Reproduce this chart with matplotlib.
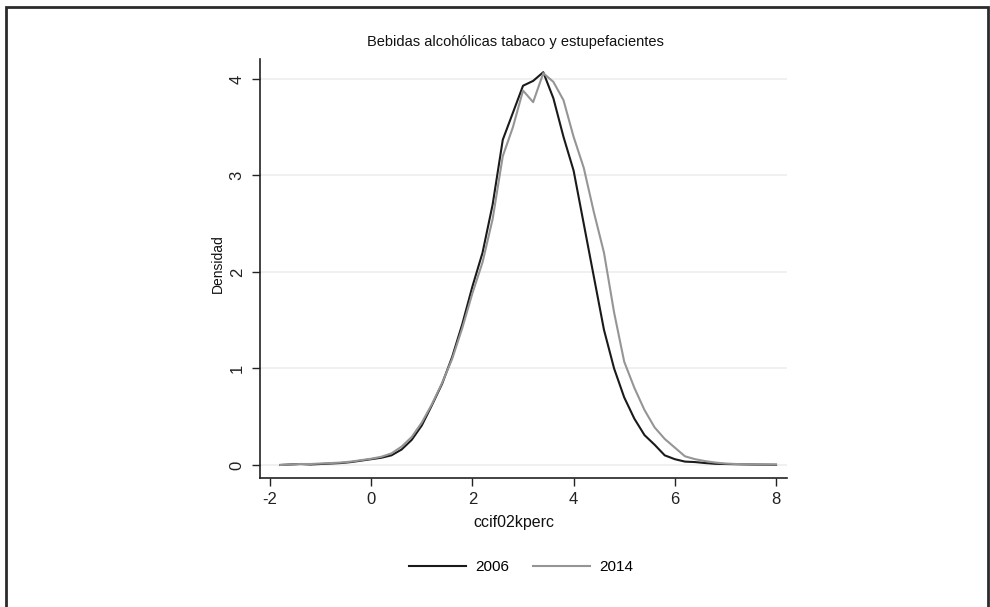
import matplotlib
matplotlib.use("Agg")
import matplotlib.pyplot as plt
from matplotlib.patches import Rectangle

plt.rcParams["font.family"] = ["Liberation Sans", "DejaVu Sans"]
plt.rcParams["axes.unicode_minus"] = False

# kdensity evaluation grid and estimated densities
grid = [-1.8, -1.6, -1.4, -1.2, -1.0, -0.8, -0.6, -0.4, -0.2, 0.0,
        0.2, 0.4, 0.6, 0.8, 1.0, 1.2, 1.4, 1.6, 1.8, 2.0,
        2.2, 2.4, 2.6, 2.8, 3.0, 3.2, 3.4, 3.6, 3.8, 4.0,
        4.2, 4.4, 4.6, 4.8, 5.0, 5.2, 5.4, 5.6, 5.8, 6.0,
        6.2, 6.4, 6.6, 6.8, 7.0, 7.2, 7.4, 7.6, 7.8, 8.0]

dens_2006 = [0.0, 0.005, 0.01, 0.005, 0.01, 0.015, 0.02, 0.03, 0.045, 0.06,
             0.075, 0.10, 0.16, 0.26, 0.41, 0.62, 0.84, 1.12, 1.46, 1.85,
             2.2, 2.7, 3.37, 3.65, 3.93, 3.98, 4.07, 3.80, 3.40, 3.05,
             2.50, 1.95, 1.40, 1.00, 0.70, 0.48, 0.31, 0.21, 0.10, 0.06,
             0.035, 0.03, 0.02, 0.012, 0.01, 0.008, 0.006, 0.004, 0.003, 0.002]

dens_2014 = [0.0, 0.005, 0.01, 0.01, 0.015, 0.02, 0.025, 0.035, 0.05, 0.065,
             0.085, 0.12, 0.19, 0.29, 0.44, 0.63, 0.85, 1.10, 1.42, 1.78,
             2.10, 2.55, 3.20, 3.50, 3.88, 3.76, 4.06, 3.97, 3.78, 3.40,
             3.08, 2.62, 2.20, 1.58, 1.07, 0.80, 0.57, 0.39, 0.27, 0.18,
             0.09, 0.06, 0.04, 0.025, 0.015, 0.01, 0.008, 0.006, 0.005, 0.005]

W, H = 990, 607
fig = plt.figure(figsize=(W / 100, H / 100), dpi=100)
ax = fig.add_axes([260 / W, 1 - 478 / H, (787 - 260) / W, (478 - 59) / H])

ax.plot(grid, dens_2006, color="#1a1a1a", linewidth=1.5, label="2006")
ax.plot(grid, dens_2014, color="#959595", linewidth=1.5, label="2014")

ax.set_xlim(-2.198, 8.217)
ax.set_ylim(-0.135, 4.207)
ax.set_xticks([-2, 0, 2, 4, 6, 8])
ax.set_yticks([0, 1, 2, 3, 4])
ax.grid(axis="y", color="#efefef", linewidth=1.3)
ax.set_axisbelow(True)

for side in ["top", "right"]:
    ax.spines[side].set_visible(False)
for side in ["left", "bottom"]:
    ax.spines[side].set_color("#222222")
    ax.spines[side].set_linewidth(1.2)

ax.tick_params(axis="both", colors="#222222", length=6, width=1.0, labelsize=12)
ax.tick_params(axis="x", pad=4)
ax.tick_params(axis="y", pad=5)
for lab in ax.get_yticklabels():
    lab.set_rotation(90)
    lab.set_va("center")

fig.text(515 / W, 1 - 42 / H, "Bebidas alcohólicas tabaco y estupefacientes",
         ha="center", va="center", fontsize=10.5, color="#111111")
fig.text(514 / W, 1 - 522 / H, "ccif02kperc",
         ha="center", va="center", fontsize=11.5, color="#111111")
fig.text(218 / W, 1 - 264 / H, "Densidad", rotation=90,
         ha="center", va="center", fontsize=10, color="#111111")

fig.legend(loc="center", bbox_to_anchor=(521 / W, 1 - 567 / H), ncol=2,
           frameon=False, fontsize=11, handlelength=3.7, handletextpad=0.6,
           columnspacing=1.6)

# outer frame around the whole graph
fig.patches.append(Rectangle((6 / W, -0.05), (988 - 6) / W, 1.05 - 7 / H,
                             transform=fig.transFigure, fill=False,
                             edgecolor="#2b2b2b", linewidth=2.0))

fig.savefig("out.png", dpi=100)
